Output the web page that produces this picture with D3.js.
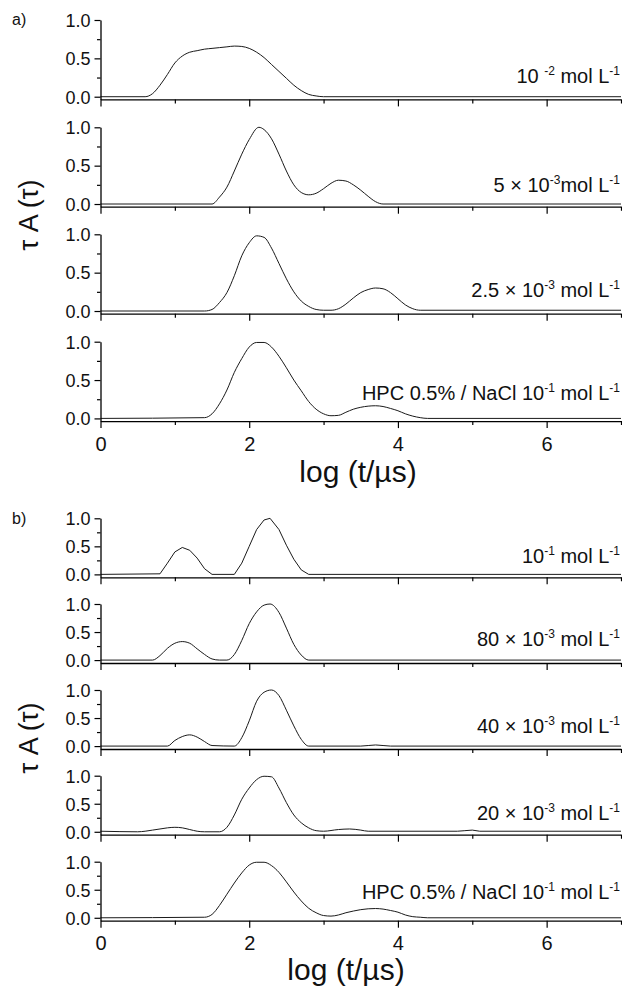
<!DOCTYPE html>
<html>
<head>
<meta charset="utf-8">
<script src="https://cdn.jsdelivr.net/npm/d3@7"></script>
<style>
  html, body { margin: 0; padding: 0; background: #fff; }
  svg { display: block; font-family: "Liberation Sans", Arial, sans-serif; }
</style>
</head>
<body>
<svg id="chart" width="622" height="987"></svg>
<script>
// ---------------- data ----------------
const xTicksMajor = [0, 2, 4, 6];
const xTicksMinor = [1, 3, 5, 7];
const yTicksMajor = [0, 0.5, 1.0];
const yTicksMinor = [0.25, 0.75];

// group a
const a1X = [0, 0.6, 0.7, 0.8, 0.9, 1.0, 1.1, 1.2, 1.3, 1.4, 1.5, 1.6, 1.7, 1.8, 1.9, 2.0, 2.1, 2.2, 2.3, 2.4, 2.5, 2.6, 2.7, 2.8, 2.9, 3.0, 7];
const a1Y = [0, 0, 0.04, 0.15, 0.29, 0.44, 0.53, 0.58, 0.60, 0.62, 0.63, 0.64, 0.65, 0.66, 0.655, 0.63, 0.58, 0.51, 0.42, 0.33, 0.24, 0.15, 0.08, 0.03, 0.01, 0, 0];

const a2X = [0, 1.5, 1.6, 1.7, 1.8, 1.9, 2.0, 2.13, 2.2, 2.3, 2.4, 2.5, 2.6, 2.7, 2.8, 2.9, 3.0, 3.1, 3.2, 3.3, 3.4, 3.5, 3.6, 3.7, 3.8, 7];
const a2Y = [0, 0, 0.09, 0.22, 0.43, 0.65, 0.84, 1.0, 0.97, 0.85, 0.65, 0.43, 0.25, 0.15, 0.12, 0.14, 0.2, 0.27, 0.31, 0.3, 0.25, 0.18, 0.1, 0.03, 0, 0];

const a3X = [0, 1.4, 1.5, 1.6, 1.7, 1.8, 1.9, 2.0, 2.1, 2.2, 2.3, 2.4, 2.5, 2.6, 2.7, 2.8, 2.9, 3.0, 3.1, 3.2, 3.3, 3.4, 3.5, 3.6, 3.7, 3.8, 3.9, 4.0, 4.1, 4.2, 4.3, 7];
const a3Y = [0, 0, 0.02, 0.11, 0.24, 0.46, 0.72, 0.89, 0.98, 0.96, 0.82, 0.62, 0.42, 0.25, 0.13, 0.06, 0.02, 0.01, 0.01, 0.03, 0.09, 0.17, 0.24, 0.28, 0.3, 0.29, 0.24, 0.16, 0.08, 0.03, 0.01, 0.01];

const a4X = [0, 1.4, 1.5, 1.6, 1.7, 1.8, 1.9, 2.0, 2.1, 2.2, 2.3, 2.4, 2.5, 2.6, 2.7, 2.8, 2.9, 3.0, 3.1, 3.2, 3.3, 3.4, 3.5, 3.6, 3.7, 3.8, 3.9, 4.0, 4.1, 4.2, 4.3, 4.4, 7];
const a4Y = [0, 0.01, 0.06, 0.19, 0.37, 0.6, 0.78, 0.93, 0.99, 0.99, 0.93, 0.81, 0.66, 0.5, 0.36, 0.22, 0.12, 0.06, 0.035, 0.04, 0.08, 0.12, 0.145, 0.16, 0.165, 0.155, 0.13, 0.1, 0.06, 0.03, 0.01, 0, 0];

// group b
const b1X = [0, 0.8, 0.9, 1.0, 1.1, 1.2, 1.3, 1.4, 1.5, 1.8, 1.9, 2.0, 2.1, 2.2, 2.28, 2.4, 2.5, 2.6, 2.7, 2.8, 7];
const b1Y = [0, 0.01, 0.2, 0.4, 0.48, 0.43, 0.29, 0.1, 0, 0, 0.2, 0.5, 0.8, 0.97, 1.0, 0.8, 0.52, 0.27, 0.08, 0, 0];

const b2X = [0, 0.7, 0.8, 0.9, 1.0, 1.1, 1.2, 1.3, 1.4, 1.5, 1.6, 1.7, 1.8, 1.9, 2.0, 2.1, 2.2, 2.28, 2.4, 2.5, 2.6, 2.7, 2.8, 7];
const b2Y = [0, 0, 0.08, 0.21, 0.3, 0.33, 0.3, 0.2, 0.1, 0.02, 0, 0, 0.1, 0.35, 0.65, 0.86, 0.98, 1.0, 0.85, 0.57, 0.28, 0.09, 0, 0];

const b3X = [0, 0.9, 1.0, 1.1, 1.2, 1.3, 1.4, 1.5, 1.8, 1.9, 2.0, 2.1, 2.2, 2.3, 2.4, 2.5, 2.6, 2.7, 2.8, 3.5, 3.7, 3.9, 7];
const b3Y = [0, 0, 0.1, 0.17, 0.2, 0.16, 0.08, 0.01, 0, 0.15, 0.45, 0.8, 0.96, 1.0, 0.9, 0.64, 0.36, 0.12, 0, 0, 0.02, 0, 0];

const b4X = [0, 0.5, 0.6, 0.7, 0.8, 0.9, 1.0, 1.1, 1.2, 1.3, 1.4, 1.6, 1.7, 1.8, 1.9, 2.0, 2.1, 2.2, 2.3, 2.4, 2.5, 2.6, 2.7, 2.8, 2.9, 3.0, 3.2, 3.35, 3.5, 3.6, 4.8, 5.0, 5.1, 7];
const b4Y = [0.01, 0, 0.01, 0.03, 0.05, 0.07, 0.08, 0.07, 0.04, 0.01, 0, 0, 0.08, 0.3, 0.58, 0.78, 0.93, 0.99, 0.98, 0.78, 0.52, 0.3, 0.16, 0.07, 0.02, 0.01, 0.04, 0.05, 0.03, 0.01, 0.01, 0.03, 0.01, 0.01];

const b5X = [0, 1.4, 1.5, 1.6, 1.7, 1.8, 1.9, 2.0, 2.1, 2.2, 2.3, 2.4, 2.5, 2.6, 2.7, 2.8, 2.9, 3.0, 3.1, 3.2, 3.3, 3.4, 3.5, 3.6, 3.7, 3.8, 3.9, 4.0, 4.1, 4.2, 4.3, 4.4, 7];
const b5Y = [0, 0.01, 0.06, 0.22, 0.42, 0.62, 0.8, 0.94, 0.99, 0.99, 0.93, 0.81, 0.64, 0.46, 0.3, 0.17, 0.09, 0.04, 0.03, 0.05, 0.09, 0.12, 0.145, 0.16, 0.165, 0.155, 0.13, 0.1, 0.05, 0.02, 0.01, 0, 0];

const aLabels = ["10 ^{-2} mol L^{-1}", "5 × 10^{-3}mol L^{-1}", "2.5 × 10^{-3} mol L^{-1}", "HPC 0.5% / NaCl 10^{-1} mol L^{-1}"];
const bLabels = ["10^{-1} mol L^{-1}", "80 × 10^{-3} mol L^{-1}", "40 × 10^{-3} mol L^{-1}", "20 × 10^{-3} mol L^{-1}", "HPC 0.5% / NaCl 10^{-1} mol L^{-1}"];

const xTitle = "log (t/\u00B5s)";
const yTitle = "\u03C4 A (\u03C4)";

// ---------------- layout ----------------
const svg = d3.select("#chart");
const x = d3.scaleLinear().domain([0, 7]).range([100.5, 621]);

const groups = [
  {
    tag: "a)", tagY: 25,
    tops: [20, 127.3, 234.3, 341.7], height: 79.4, yMin: -0.035,
    series: [[a1X, a1Y], [a2X, a2Y], [a3X, a3Y], [a4X, a4Y]],
    labels: aLabels, labelLift: [13.4, 11.6, 14, 18],
    curves: [d3.curveMonotoneX, d3.curveMonotoneX, d3.curveMonotoneX, d3.curveMonotoneX],
    xTitleX: 358, xTitleY: 482, yTitleY: 215
  },
  {
    tag: "b)", tagY: 524,
    tops: [518.3, 604, 690, 775.7, 861.7], height: 59, yMin: -0.052,
    series: [[b1X, b1Y], [b2X, b2Y], [b3X, b3Y], [b4X, b4Y], [b5X, b5Y]],
    labels: bLabels, labelLift: [11, 14, 13, 11.7, 19],
    curves: [d3.curveLinear, d3.curveMonotoneX, d3.curveMonotoneX, d3.curveMonotoneX, d3.curveMonotoneX],
    xTitleX: 346, xTitleY: 980, yTitleY: 738
  }
];

function addRichText(sel, str) {
  const parts = str.split(/(\^\{[^}]*\})/).filter(s => s.length);
  let raised = false;
  parts.forEach(p => {
    if (p.startsWith("^{")) {
      sel.append("tspan").attr("font-size", 12).attr("dy", raised ? 0 : -8).text(p.slice(2, -1));
      raised = true;
    } else {
      sel.append("tspan").attr("dy", raised ? 8 : 0).text(p);
      raised = false;
    }
  });
}

groups.forEach(g => {
  g.tops.forEach((top, i) => {
    const y = d3.scaleLinear().domain([g.yMin, 1.0]).range([top + g.height, top]);
    const p = svg.append("g");
    const bottom = top + g.height;
    const isLast = i === g.tops.length - 1;

    // curve
    const [xs, ys] = g.series[i];
    const pts = xs.map((v, k) => [v, ys[k]]);
    p.append("path")
      .datum(pts)
      .attr("fill", "none")
      .attr("stroke", "#1a1a1a")
      .attr("stroke-width", 1)
      .attr("d", d3.line().x(d => x(d[0])).y(d => y(d[1])).curve(g.curves[i]));

    // x axis
    const xa = p.append("g").attr("transform", `translate(0,${bottom})`)
      .call(d3.axisBottom(x).tickValues(xTicksMajor).tickSize(7).tickSizeOuter(0)
        .tickFormat(isLast ? d3.format("d") : () => ""));
    xa.select(".domain").attr("stroke", "#000").attr("stroke-width", 1.3);
    xa.selectAll(".tick line").attr("stroke", "#000").attr("stroke-width", 1.2);
    xa.selectAll(".tick text").attr("font-size", 20).attr("font-family", "Liberation Sans, Arial, sans-serif")
      .attr("fill", "#111").attr("dy", 0).attr("y", 29.7);
    const xm = p.append("g").attr("transform", `translate(0,${bottom})`)
      .call(d3.axisBottom(x).tickValues(xTicksMinor).tickSize(4).tickSizeOuter(0).tickFormat(() => ""));
    xm.select(".domain").remove();
    xm.selectAll(".tick line").attr("stroke", "#000").attr("stroke-width", 1.2);

    // y axis
    const ya = p.append("g").attr("transform", `translate(${x(0)},0)`)
      .call(d3.axisLeft(y).tickValues(yTicksMajor).tickSize(6).tickSizeOuter(0).tickFormat(d3.format(".1f")));
    ya.select(".domain").attr("stroke", "#000").attr("stroke-width", 1.3);
    ya.selectAll(".tick line").attr("stroke", "#000").attr("stroke-width", 1.2);
    ya.selectAll(".tick text").attr("font-size", 18).attr("font-family", "Liberation Sans, Arial, sans-serif")
      .attr("fill", "#111").attr("x", -10).attr("dy", "0.35em");
    const ym = p.append("g").attr("transform", `translate(${x(0)},0)`)
      .call(d3.axisLeft(y).tickValues(yTicksMinor).tickSize(3.5).tickSizeOuter(0).tickFormat(() => ""));
    ym.select(".domain").remove();
    ym.selectAll(".tick line").attr("stroke", "#000").attr("stroke-width", 1.2);

    // label
    const t = p.append("text")
      .attr("x", 620).attr("y", y(0) - g.labelLift[i])
      .attr("text-anchor", "end")
      .attr("font-size", 20)
      .attr("fill", "#111");
    addRichText(t, g.labels[i]);
  });

  // panel tag
  svg.append("text").attr("x", 12).attr("y", g.tagY)
    .attr("font-size", 16).attr("fill", "#111").text(g.tag);

  // x title
  svg.append("text").attr("x", g.xTitleX).attr("y", g.xTitleY)
    .attr("text-anchor", "middle").attr("font-size", 30).attr("fill", "#111").text(xTitle);

  // y title
  svg.append("text")
    .attr("transform", `translate(38,${g.yTitleY}) rotate(-90)`)
    .attr("text-anchor", "middle").attr("font-size", 27).attr("fill", "#111").text(yTitle);
});
</script>
</body>
</html>
